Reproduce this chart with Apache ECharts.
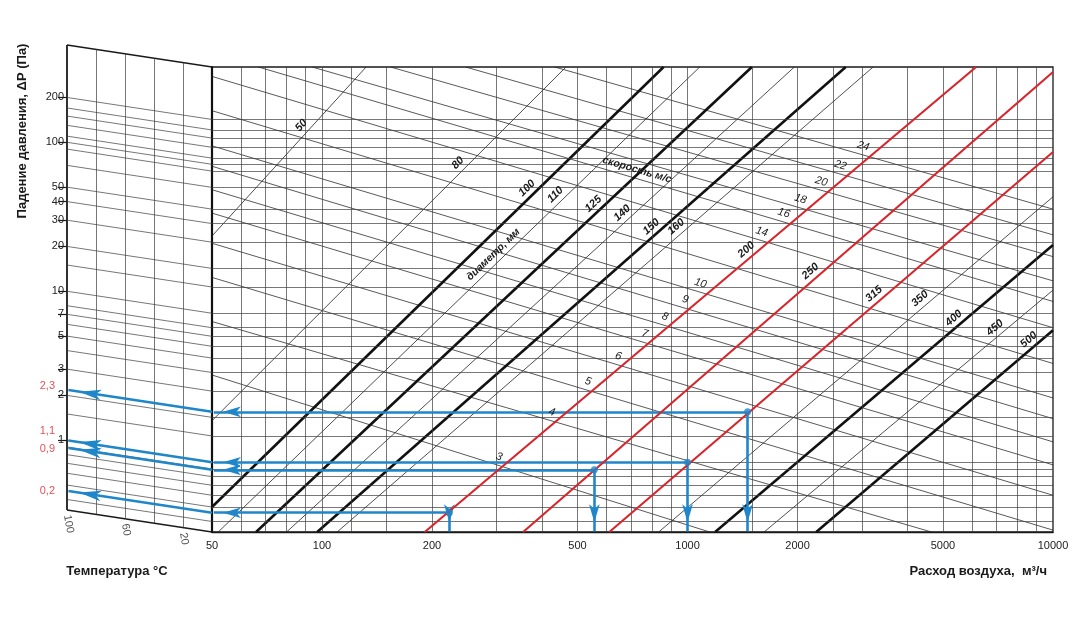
<!DOCTYPE html>
<html>
<head>
<meta charset="utf-8">
<title>Nomogram</title>
<script src="https://cdn.jsdelivr.net/npm/echarts@6/dist/echarts.min.js"></script>
<style>
html,body{margin:0;padding:0;background:#fff;}
#chart{width:1080px;height:618px;}
</style>
</head>
<body>
<div id="chart"></div>
<script>
// ================= DATA =================
const flowRange = [50, 10000];            // m3/h
const dpRange = [0.34, 450];              // Pa
const flowTickLabels = [50, 100, 200, 500, 1000, 2000, 5000, 10000];
const flowGridLines = [60, 70, 80, 90, 100, 120, 150, 200, 300, 400, 500, 600, 700, 800, 900,
  1000, 1500, 2000, 2500, 3000, 4000, 5000, 6000, 7000, 8000, 9000];
const dpGridLines = [0.4, 0.5, 0.6, 0.7, 0.8, 0.9, 1, 1.5, 2, 3, 4, 5, 6, 7, 8, 10, 15, 20,
  30, 40, 50, 70, 90, 100, 110, 130, 150, 170, 200];
const dpTickLabels = [1, 2, 3, 5, 7, 10, 20, 30, 40, 50, 100, 200];
const tempTickLabels = [100, 60, 20];
const tempGridLines = [80, 60, 40, 20];

const diameters = [50, 80, 100, 110, 125, 140, 150, 160, 200, 250, 315, 350, 400, 450, 500];
const diameterFrom = [[50, 33], [50, 1.9], [50, 0.5], [52, 0.34], [66, 0.34], [80, 0.34], [97, 0.34],
  [110, 0.34], [191, 0.34], [355, 0.34], [611, 0.34], [834, 0.34], [1190, 0.34], [1620, 0.34], [2250, 0.34]];
const diameterTo = [[132, 450], [465, 450], [860, 450], [1080, 450], [1500, 450], [1960, 450], [2710, 450],
  [3220, 450], [6160, 450], [10000, 417], [10000, 121], [10000, 60.5], [10000, 28.7], [10000, 14.3], [10000, 7.7]];

const velocities = [3, 4, 5, 6, 7, 8, 9, 10, 12, 14, 16, 18, 20, 22, 24];
const velocityLabels = ['3', '4', '5', '6', '7', '8', '9', '10', '', '14', '16', '18', '20', '22', '24'];
const velocityFrom = [[50, 3.85], [50, 8.8], [50, 17.4], [50, 29.5], [50, 47], [50, 67.5], [50, 97],
  [50, 133], [50, 229], [50, 389], [67, 450], [94, 450], [154, 450], [247, 450], [433, 450]];
const velocityTo = [[1150, 0.34], [4650, 0.34], [10000, 0.35], [10000, 0.6], [10000, 0.96], [10000, 1.37],
  [10000, 1.96], [10000, 2.7], [10000, 4.6], [10000, 8.0], [10000, 12], [10000, 16.5], [10000, 24],
  [10000, 33.6], [10000, 50]];

const exampleFlow = [1460, 1000, 556, 223];
const exampleDp = [2.18, 1.0, 0.889, 0.458];
const exampleReading = ['2,3', '1,1', '0,9', '0,2'];

const tempShift = 1.405;   // skew of the temperature panel (ratio between its two edges)

// ================= LAYOUT / STYLE =================
const FONT = '"Liberation Sans", Arial, Helvetica, sans-serif';
const BLUE = '#1f87c9';
const RED = '#d8242b';
const INK = '#1a1a1a';
const GRIDC = '#3c3c3c';
const diameterKind = {50: 'thin', 80: 'thin', 100: 'thick', 110: 'thin', 125: 'thick', 140: 'thin',
  150: 'thick', 160: 'thin', 200: 'red', 250: 'red', 315: 'red', 350: 'thin', 400: 'thick',
  450: 'thin', 500: 'thick'};
const kindStyle = {
  thin: {color: '#222', width: 0.8},
  thick: {color: '#111', width: 2.6},
  red: {color: RED, width: 2.1}
};
const diameterLabelAt = [0.66, 0.73, 0.73, 0.73, 0.71, 0.69, 0.66, 0.66, 0.61, 0.57, 0.63, 0.70, 0.75, 0.85, 0.96];
const readingOffsetY = [-4, -9, 1, 0];

// ================= HELPERS =================
const lg = Math.log10, pw = v => Math.pow(10, v);
function along(a, b, t) {
  return [pw(lg(a[0]) + t * (lg(b[0]) - lg(a[0]))), pw(lg(a[1]) + t * (lg(b[1]) - lg(a[1])))];
}
function cross(a1, a2, b1, b2) {
  const p0 = lg(a1[0]), p1 = lg(a1[1]);
  const r0 = lg(a2[0]) - p0, r1 = lg(a2[1]) - p1;
  const q0 = lg(b1[0]), q1 = lg(b1[1]);
  const s0 = lg(b2[0]) - q0, s1 = lg(b2[1]) - q1;
  const den = r0 * s1 - r1 * s0;
  const t = ((q0 - p0) * s1 - (q1 - p1) * s0) / den;
  return [pw(p0 + t * r0), pw(p1 + t * r1)];
}
function labelSeries(g, from, to, text, pos, style) {
  return {
    type: 'line', xAxisIndex: g, yAxisIndex: g, data: [], silent: true, z: 7,
    markLine: {
      silent: true, symbol: 'none', animation: false,
      lineStyle: {width: 0, color: 'rgba(0,0,0,0)'},
      label: Object.assign({show: true, position: pos, formatter: text, distance: 2, fontFamily: FONT}, style),
      emphasis: {disabled: true},
      data: [[{coord: from}, {coord: to}]]
    }
  };
}
// panel value at temperature T for the line that starts at main value v (T=0 edge)
const panelAt = (v, T) => v * Math.pow(tempShift, T / 100 - 1);

const series = [];

// ---- main grid lines ----
series.push({
  type: 'line', xAxisIndex: 0, yAxisIndex: 0, data: [], silent: true, z: 1,
  markLine: {
    silent: true, symbol: 'none', animation: false, label: {show: false},
    emphasis: {disabled: true},
    lineStyle: {color: GRIDC, width: 0.7, type: 'solid'},
    data: flowGridLines.map(v => ({xAxis: v})).concat(dpGridLines.map(v => ({yAxis: v})))
  }
});

// ---- velocity lines ----
const i200 = diameters.indexOf(200);
velocities.forEach((v, i) => {
  const a = velocityFrom[i], b = velocityTo[i];
  series.push({
    type: 'line', xAxisIndex: 0, yAxisIndex: 0, data: [a, b], symbol: 'none', silent: true, z: 2,
    lineStyle: {color: '#222', width: 0.75}
  });
  if (velocityLabels[i]) {
    const c = cross(a, b, diameterFrom[i200], diameterTo[i200]);
    series.push(labelSeries(0, a, c, velocityLabels[i], 'insideEndTop',
      {fontSize: 11, fontStyle: 'italic', color: INK, distance: 3}));
  }
});
// velocity caption
(function () {
  const k = velocities.indexOf(16);
  const a = velocityFrom[k], b = velocityTo[k];
  series.push(labelSeries(0, a, along(a, b, 0.52), 'скорость м/с', 'insideEndTop',
    {fontSize: 10.5, fontStyle: 'italic', fontWeight: 'bold', color: INK, distance: 3}));
})();

// ---- diameter lines ----
diameters.forEach((d, i) => {
  const a = diameterFrom[i], b = diameterTo[i];
  const kind = diameterKind[d];
  series.push({
    type: 'line', xAxisIndex: 0, yAxisIndex: 0, data: [a, b], symbol: 'none', silent: true,
    z: kind === 'thin' ? 3 : (kind === 'thick' ? 4 : 5),
    lineStyle: kindStyle[kind]
  });
  series.push(labelSeries(0, a, along(a, b, diameterLabelAt[i]), String(d), 'insideEndTop',
    {fontSize: 11, fontStyle: 'italic', fontWeight: 'bold', color: INK, distance: 3}));
});
(function () {
  const k = diameters.indexOf(110);
  const a = diameterFrom[k], b = diameterTo[k];
  series.push(labelSeries(0, a, along(a, b, 0.64), 'диаметр, мм', 'insideEndTop',
    {fontSize: 10.5, fontStyle: 'italic', fontWeight: 'bold', color: INK, distance: 3}));
})();

// ---- temperature panel ----
series.push({
  type: 'line', xAxisIndex: 1, yAxisIndex: 1, data: [], silent: true, z: 1,
  markLine: {
    silent: true, symbol: 'none', animation: false, label: {show: false},
    emphasis: {disabled: true},
    lineStyle: {color: GRIDC, width: 0.7, type: 'solid'},
    data: dpGridLines.map(v => [{coord: [0, panelAt(v, 0)]}, {coord: [100, panelAt(v, 100)]}])
      .concat(tempGridLines.map(T => [{coord: [T, panelAt(dpRange[0], T)]}, {coord: [T, panelAt(dpRange[1], T)]}]))
  }
});
// panel frame
[dpRange[0], dpRange[1]].forEach(v => {
  series.push({
    type: 'line', xAxisIndex: 1, yAxisIndex: 1, symbol: 'none', silent: true, z: 3, clip: false,
    data: [[0, panelAt(v, 0)], [100, panelAt(v, 100)]],
    lineStyle: {color: INK, width: 1.6}
  });
});
series.push({
  type: 'line', xAxisIndex: 1, yAxisIndex: 1, symbol: 'none', silent: true, z: 3, clip: false,
  data: [[100, panelAt(dpRange[0], 100)], [100, panelAt(dpRange[1], 100)]],
  lineStyle: {color: INK, width: 1.8}
});
// temperature labels
series.push({
  type: 'scatter', xAxisIndex: 1, yAxisIndex: 1, symbolSize: 0, silent: true, z: 6,
  data: tempTickLabels.map(T => [T, panelAt(dpRange[0], T)]),
  label: {
    show: true, position: 'bottom', distance: 5, rotate: -80, align: 'left', verticalAlign: 'middle',
    formatter: p => String(p.value[0]), fontSize: 11, color: '#222', fontFamily: FONT
  }
});

// ---- worked examples (blue) ----
const arrowEnd = (coord, size) => ({coord: coord, symbol: 'arrow', symbolSize: size, symbolOffset: [0, size[1] / 2]});
exampleFlow.forEach((q, i) => {
  const p = exampleDp[i];
  series.push({
    type: 'line', xAxisIndex: 0, yAxisIndex: 0, data: [], silent: true, z: 8,
    markLine: {
      silent: true, animation: false, label: {show: false}, emphasis: {disabled: true},
      symbol: 'none',
      lineStyle: {color: BLUE, width: 2.6, type: 'solid'},
      data: [
        [{coord: [q, p], symbol: 'none'}, arrowEnd([flowRange[0] * 1.012, p], [8, 18])],
        [{coord: [q, p], symbol: 'none'}, arrowEnd([q, dpRange[0] * 1.01], [8, 18])]
      ]
    }
  });
  series.push({
    type: 'line', xAxisIndex: 1, yAxisIndex: 1, data: [], silent: true, z: 8,
    markLine: {
      silent: true, animation: false, label: {show: false}, emphasis: {disabled: true},
      symbol: 'none',
      lineStyle: {color: BLUE, width: 2.6, type: 'solid'},
      data: [[{coord: [0, panelAt(p, 0)], symbol: 'none'}, arrowEnd([99, panelAt(p, 99)], [8, 22])]]
    }
  });
});
series.push({
  type: 'scatter', xAxisIndex: 0, yAxisIndex: 0, symbol: 'circle', symbolSize: 7, silent: true, z: 9,
  itemStyle: {color: BLUE},
  data: exampleFlow.map((q, i) => [q, exampleDp[i]])
});
series.push({
  type: 'scatter', xAxisIndex: 1, yAxisIndex: 1, symbolSize: 0, silent: true, z: 9,
  data: exampleDp.map((p, i) => ({
    value: [100, p],
    label: {offset: [0, readingOffsetY[i]]}
  })),
  label: {
    show: true, position: 'left', distance: 12, fontSize: 11, color: RED, fontFamily: FONT,
    formatter: pr => exampleReading[pr.dataIndex]
  }
});

// ================= CHART =================
const chart = echarts.init(document.getElementById('chart'), null, {renderer: 'canvas'});
chart.setOption({
  animation: false,
  backgroundColor: '#fff',
  textStyle: {fontFamily: FONT},
  grid: [
    {left: 212, top: 67, right: 27, bottom: 86, show: true, borderColor: INK, borderWidth: 1.3, backgroundColor: 'transparent'},
    {left: 67, top: 45, width: 145, bottom: 86, show: false}
  ],
  xAxis: [
    {
      type: 'log', gridIndex: 0, min: flowRange[0], max: flowRange[1], logBase: 10,
      axisLine: {show: true, onZero: false, lineStyle: {color: INK, width: 1.3}},
      axisTick: {show: false}, splitLine: {show: false}, minorSplitLine: {show: false},
      axisLabel: {show: true, customValues: flowTickLabels, formatter: v => String(v), fontSize: 11, color: '#222', margin: 8}
    },
    {
      type: 'value', gridIndex: 1, min: 0, max: 100, inverse: true, show: false,
      axisLine: {onZero: false}
    }
  ],
  yAxis: [
    {
      type: 'log', gridIndex: 0, min: dpRange[0], max: dpRange[1], logBase: 10, position: 'left',
      axisLine: {show: true, onZero: false, lineStyle: {color: '#111', width: 2.2}},
      axisTick: {show: false}, axisLabel: {show: false}, splitLine: {show: false}
    },
    {
      type: 'log', gridIndex: 1, min: dpRange[0] / tempShift, max: dpRange[1], logBase: 10, position: 'left',
      axisLine: {show: false, onZero: false},
      axisTick: {show: true, customValues: dpTickLabels, length: 9, lineStyle: {color: INK, width: 1.2}},
      axisLabel: {show: true, customValues: dpTickLabels, formatter: v => String(v), fontSize: 11, color: '#222', margin: 3},
      splitLine: {show: false}
    }
  ],
  graphic: [
    {type: 'text', x: 22, y: 131, rotation: Math.PI / 2, silent: true,
      style: {text: 'Падение давления, ΔP (Па)', font: 'bold 13px ' + FONT, fill: INK, align: 'center', verticalAlign: 'middle'}},
    {type: 'text', x: 117, y: 571, silent: true,
      style: {text: 'Температура °C', font: 'bold 13px ' + FONT, fill: INK, align: 'center', verticalAlign: 'middle'}},
    {type: 'text', x: 1047, y: 571, silent: true,
      style: {text: 'Расход воздуха,  м³/ч', font: 'bold 13px ' + FONT, fill: INK, align: 'right', verticalAlign: 'middle'}}
  ],
  series: series
});
</script>
</body>
</html>
